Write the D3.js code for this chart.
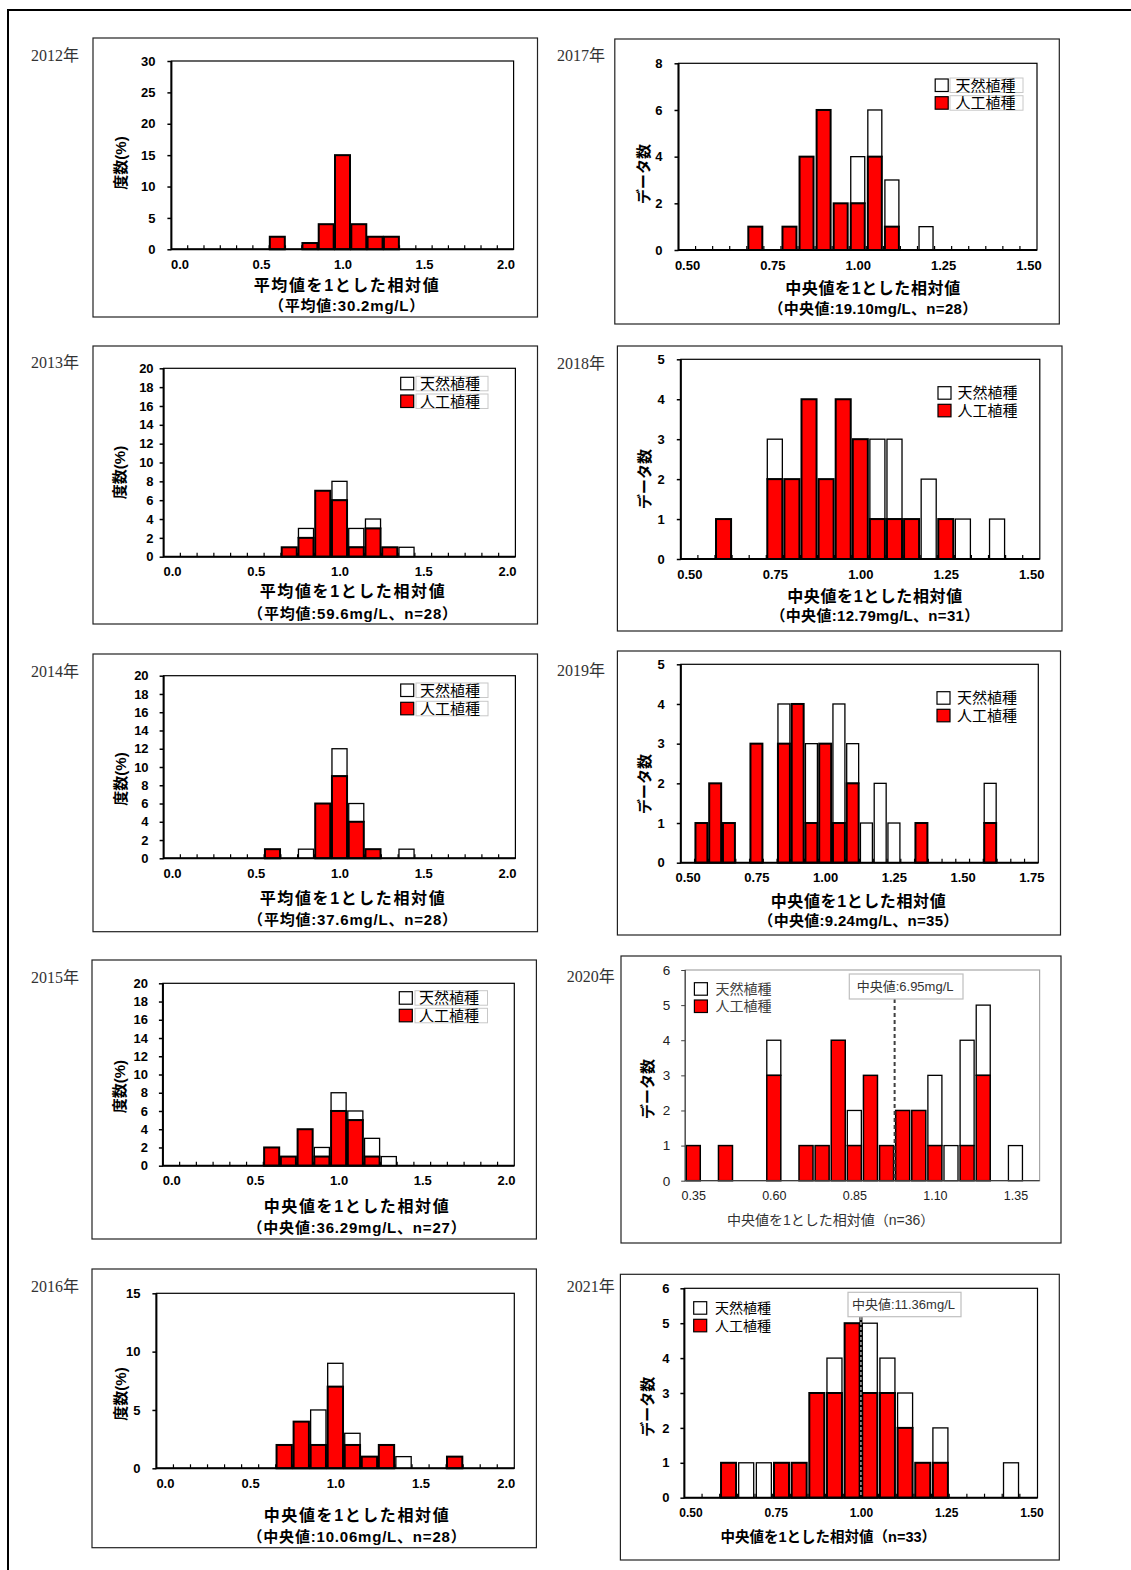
<!DOCTYPE html>
<html>
<head>
<meta charset="utf-8">
<script src="https://cdn.jsdelivr.net/npm/d3@7"></script>
<style>
  html, body { margin: 0; padding: 0; background: #fff; }
  svg { display: block; }
</style>
</head>
<body>
<svg id="chart" width="1131" height="1570"></svg>
<script>
// ---- data: bin value (relative to mean/median) and counts per bin ----
// art = 人工植種 (red), nat = 天然植種 (white, stacked on top)
const bins2012 = [0.6, 0.8, 0.9, 1.0, 1.1, 1.2, 1.3];
const art2012  = [2, 1, 4, 15, 4, 2, 2];
const nat2012  = [0, 0, 0, 0, 0, 0, 0];

const bins2013 = [0.7, 0.8, 0.9, 1.0, 1.1, 1.2, 1.3, 1.4];
const art2013  = [1, 2, 7, 6, 1, 3, 1, 0];
const nat2013  = [0, 1, 0, 2, 2, 1, 0, 1];

const bins2014 = [0.6, 0.8, 0.9, 1.0, 1.1, 1.2, 1.4];
const art2014  = [1, 0, 6, 9, 4, 1, 0];
const nat2014  = [0, 1, 0, 3, 2, 0, 1];

const bins2015 = [0.6, 0.7, 0.8, 0.9, 1.0, 1.1, 1.2, 1.3];
const art2015  = [2, 1, 4, 1, 6, 5, 1, 0];
const nat2015  = [0, 0, 0, 1, 2, 1, 2, 1];

const bins2016 = [0.7, 0.8, 0.9, 1.0, 1.1, 1.2, 1.3, 1.4, 1.7];
const art2016  = [2, 4, 2, 7, 2, 1, 2, 0, 1];
const nat2016  = [0, 0, 3, 2, 1, 0, 0, 1, 0];

const bins2017 = [0.70, 0.80, 0.85, 0.90, 0.95, 1.00, 1.05, 1.10, 1.20];
const art2017  = [1, 1, 4, 6, 2, 2, 4, 1, 0];
const nat2017  = [0, 0, 0, 0, 0, 2, 2, 2, 1];

const bins2018 = [0.60, 0.75, 0.80, 0.85, 0.90, 0.95, 1.00, 1.05, 1.10, 1.15, 1.20, 1.25, 1.30, 1.40];
const art2018  = [1, 2, 2, 4, 2, 4, 3, 1, 1, 1, 0, 1, 0, 0];
const nat2018  = [0, 1, 0, 0, 0, 0, 0, 2, 2, 0, 2, 0, 1, 1];

const bins2019 = [0.55, 0.60, 0.65, 0.75, 0.85, 0.90, 0.95, 1.00, 1.05, 1.10, 1.15, 1.20, 1.25, 1.35, 1.60];
const art2019  = [1, 2, 1, 3, 3, 4, 1, 3, 1, 2, 0, 0, 0, 1, 1];
const nat2019  = [0, 0, 0, 0, 1, 0, 2, 0, 3, 1, 1, 2, 1, 0, 1];

const bins2020 = [0.35, 0.45, 0.60, 0.70, 0.75, 0.80, 0.85, 0.90, 0.95, 1.00, 1.05, 1.10, 1.15, 1.20, 1.25, 1.35];
const art2020  = [1, 1, 3, 1, 1, 4, 1, 3, 1, 2, 2, 1, 0, 1, 3, 0];
const nat2020  = [0, 0, 1, 0, 0, 0, 1, 0, 0, 0, 0, 2, 1, 3, 2, 1];

const bins2021 = [0.60, 0.65, 0.70, 0.75, 0.80, 0.85, 0.90, 0.95, 1.00, 1.05, 1.10, 1.15, 1.20, 1.40];
const art2021  = [1, 0, 0, 1, 1, 3, 3, 5, 3, 3, 2, 1, 1, 0];
const nat2021  = [0, 1, 1, 0, 0, 0, 1, 0, 2, 1, 1, 0, 1, 1];

// median position on the bin axis (boundary of the bin holding 1.00)
const medianPos2020 = 0.975;
const medianPos2021 = 0.975;

// ---- tick labels ----
const yTicks30 = [0, 5, 10, 15, 20, 25, 30];
const yTicks20 = [0, 2, 4, 6, 8, 10, 12, 14, 16, 18, 20];
const yTicks15 = [0, 5, 10, 15];
const yTicks8  = [0, 2, 4, 6, 8];
const yTicks5  = [0, 1, 2, 3, 4, 5];
const yTicks6  = [0, 1, 2, 3, 4, 5, 6];
const xLabels20  = [0.0, 0.5, 1.0, 1.5, 2.0];
const xLabels150 = [0.50, 0.75, 1.00, 1.25, 1.50];
const xLabels175 = [0.50, 0.75, 1.00, 1.25, 1.50, 1.75];
const xLabels135 = [0.35, 0.60, 0.85, 1.10, 1.35];

const seriesNames  = ["天然植種", "人工植種"];
const seriesColors = ["#ffffff", "#ff0000"];

// ---- panel layout ----
const panels = [
  { year: "2012年", yearX: 31, yearY: 60.6, box: [93, 38, 537.5, 317], plot: [171.4, 61, 513.6, 249.3],
    bins: bins2012, art: art2012, nat: nat2012, xDomain: [-0.05, 2.05], step: 0.1, barFrac: 0.92,
    yMax: 30, yTicks: yTicks30, yGap: 16, xLabels: xLabels20, fmt: ".1f",
    yTitle: "度数(%)", yTitleX: 121, yTitleY: 163,
    title: ["平均値を1とした相対値", "（平均値:30.2mg/L）"], titleX: 347, titleY: [285, 306], spacing: 1.6 },
  { year: "2013年", yearX: 31, yearY: 367.6, box: [93, 346, 537.5, 624], plot: [163.6, 368.3, 515.4, 556.7],
    bins: bins2013, art: art2013, nat: nat2013, xDomain: [-0.05, 2.05], step: 0.1, barFrac: 0.9,
    yMax: 20, yTicks: yTicks20, yGap: 10, xLabels: xLabels20, fmt: ".1f",
    yTitle: "度数(%)", yTitleX: 120, yTitleY: 472.5,
    title: ["平均値を1とした相対値", "（平均値:59.6mg/L、n=28）"], titleX: 353, titleY: [591.7, 614], spacing: 1.6,
    legend: { x: 400.7, y1: 377.3, y2: 395, boxed: true, bx0: 416, bx1: 488, tx: 420, fs: 15 } },
  { year: "2014年", yearX: 31, yearY: 676.6, box: [93, 654, 537.5, 931.7], plot: [163.6, 675.7, 515.4, 858.3],
    bins: bins2014, art: art2014, nat: nat2014, xDomain: [-0.05, 2.05], step: 0.1, barFrac: 0.9,
    yMax: 20, yTicks: yTicks20, yGap: 15, xLabels: xLabels20, fmt: ".1f",
    yTitle: "度数(%)", yTitleX: 121, yTitleY: 779,
    title: ["平均値を1とした相対値", "（平均値:37.6mg/L、n=28）"], titleX: 353, titleY: [898, 920], spacing: 1.6,
    legend: { x: 400.7, y1: 684, y2: 702.3, boxed: true, bx0: 416, bx1: 488, tx: 420, fs: 15 } },
  { year: "2015年", yearX: 31, yearY: 982.6, box: [92, 960, 536.4, 1239], plot: [162.9, 983.3, 514.3, 1165.7],
    bins: bins2015, art: art2015, nat: nat2015, xDomain: [-0.05, 2.05], step: 0.1, barFrac: 0.9,
    yMax: 20, yTicks: yTicks20, yGap: 15, xLabels: xLabels20, fmt: ".1f",
    yTitle: "度数(%)", yTitleX: 120, yTitleY: 1086.7,
    title: ["中央値を1とした相対値", "（中央値:36.29mg/L、n=27）"], titleX: 357, titleY: [1206.7, 1228], spacing: 1.6,
    legend: { x: 399.3, y1: 991.7, y2: 1009.3, boxed: true, bx0: 415, bx1: 487.5, tx: 419, fs: 15 } },
  { year: "2016年", yearX: 31, yearY: 1291.6, box: [92, 1269, 536.4, 1547.7], plot: [156.4, 1293.3, 514.3, 1468.3],
    bins: bins2016, art: art2016, nat: nat2016, xDomain: [-0.05, 2.05], step: 0.1, barFrac: 0.9,
    yMax: 15, yTicks: yTicks15, yGap: 16, xLabels: xLabels20, fmt: ".1f",
    yTitle: "度数(%)", yTitleX: 121, yTitleY: 1394,
    title: ["中央値を1とした相対値", "（中央値:10.06mg/L、n=28）"], titleX: 357, titleY: [1515.7, 1536.7], spacing: 1.6 },

  { year: "2017年", yearX: 557, yearY: 60.6, box: [614.8, 39, 1059.3, 324], plot: [678.5, 63.3, 1037, 250],
    bins: bins2017, art: art2017, nat: nat2017, xDomain: [0.475, 1.525], step: 0.05, barFrac: 0.82,
    yMax: 8, yTicks: yTicks8, yGap: 16, xLabels: xLabels150, fmt: ".2f",
    yTitle: "データ数", yTitleX: 644, yTitleY: 174,
    title: ["中央値を1とした相対値", "（中央値:19.10mg/L、n=28）"], titleX: 873, titleY: [288.3, 308.3], spacing: 0.6,
    legend: { x: 935.2, y1: 79, y2: 96.7, boxed: true, bx0: 950, bx1: 1023, tx: 955.6, fs: 15 } },
  { year: "2018年", yearX: 557, yearY: 368.6, box: [617.4, 346, 1062, 631], plot: [680.8, 359.3, 1039.8, 559],
    bins: bins2018, art: art2018, nat: nat2018, xDomain: [0.475, 1.525], step: 0.05, barFrac: 0.88,
    yMax: 5, yTicks: yTicks5, yGap: 16, xLabels: xLabels150, fmt: ".2f",
    yTitle: "データ数", yTitleX: 645, yTitleY: 479,
    title: ["中央値を1とした相対値", "（中央値:12.79mg/L、n=31）"], titleX: 875, titleY: [596.7, 616], spacing: 0.6,
    legend: { x: 938, y1: 386.7, y2: 404.3, boxed: false, tx: 957.4, fs: 15 } },
  { year: "2019年", yearX: 557, yearY: 675.6, box: [617.4, 651, 1060.5, 935], plot: [680.8, 664.3, 1038.3, 862.7],
    bins: bins2019, art: art2019, nat: nat2019, xDomain: [0.475, 1.775], step: 0.05, barFrac: 0.87,
    yMax: 5, yTicks: yTicks5, yGap: 16, xLabels: xLabels175, fmt: ".2f",
    yTitle: "データ数", yTitleX: 645, yTitleY: 784,
    title: ["中央値を1とした相対値", "（中央値:9.24mg/L、n=35）"], titleX: 858.5, titleY: [901, 921], spacing: 0.6,
    legend: { x: 937, y1: 691.7, y2: 709.3, boxed: false, tx: 957, fs: 15 } },
  { year: "2020年", yearX: 566.7, yearY: 982.3, box: [621, 956, 1061, 1243], plot: [685.2, 970, 1039.6, 1180.7],
    bins: bins2020, art: art2020, nat: nat2020, xDomain: [0.325, 1.425], step: 0.05, barFrac: 0.87,
    yMax: 6, yTicks: yTicks6, yGap: 15, xLabels: xLabels135, fmt: ".2f", modern: true,
    yTitle: "データ数", yTitleX: 648, yTitleY: 1089,
    title: ["中央値を1とした相対値（n=36）"], titleX: 830.6, titleY: [1220], spacing: 0,
    legend: { x: 694.4, y1: 982.7, y2: 1000, boxed: false, tx: 715.6, fs: 14 },
    median: { pos: medianPos2020, top: 999, box: [849.3, 974, 963, 999], label: "中央値:6.95mg/L", tx: 856.7, style: "dash" } },
  { year: "2021年", yearX: 566.7, yearY: 1292.3, box: [620.4, 1274.3, 1059.3, 1560], plot: [684.4, 1288.3, 1037.5, 1497.7],
    bins: bins2021, art: art2021, nat: nat2021, xDomain: [0.475, 1.475], labelDomain: [0.4824, 1.5176], step: 0.05, barFrac: 0.85,
    yMax: 6, yTicks: yTicks6, yGap: 15, xLabels: xLabels150, fmt: ".2f", xFont: 12,
    yTitle: "データ数", yTitleX: 648, yTitleY: 1406.7,
    title: ["中央値を1とした相対値（n=33）"], titleX: 828.3, titleY: [1536.3], titleSize: 14.5, spacing: 0,
    legend: { x: 693.7, y1: 1301.7, y2: 1319.3, boxed: false, tx: 715, fs: 14 },
    median: { pos: medianPos2021, top: 1317, box: [848, 1292.3, 961, 1316.7], label: "中央値:11.36mg/L", tx: 851.9, style: "white" } }
];

const FONT  = "'Liberation Sans', 'Noto Sans CJK JP', sans-serif";
const SERIF = "'Liberation Serif', 'Noto Sans CJK JP', serif";
const svg = d3.select("#chart");

// page frame
svg.append("path")
  .attr("d", "M8,1580V10H1140")
  .attr("fill", "none").attr("stroke", "#000").attr("stroke-width", 2);

function drawPanel(p) {
  const g = svg.append("g").attr("font-family", FONT);
  const ink = p.modern ? "#404040" : "#000";
  const [bx0, by0, bx1, by1] = p.box;
  const [px0, py0, px1, py1] = p.plot;

  // year label
  g.append("text")
    .attr("x", p.yearX).attr("y", p.yearY)
    .attr("font-family", SERIF).attr("font-size", 16).attr("fill", "#333")
    .text(p.year);

  // panel frame
  g.append("rect")
    .attr("x", bx0).attr("y", by0).attr("width", bx1 - bx0).attr("height", by1 - by0)
    .attr("fill", "#fff").attr("stroke", "#222").attr("stroke-width", 1.2);

  const x  = d3.scaleLinear().domain(p.xDomain).range([px0, px1]);
  const xl = p.labelDomain ? d3.scaleLinear().domain(p.labelDomain).range([px0, px1]) : x;
  const y  = d3.scaleLinear().domain([0, p.yMax]).range([py1, py0]);

  // plot area outline
  g.append("rect")
    .attr("x", px0).attr("y", py0).attr("width", px1 - px0).attr("height", py1 - py0)
    .attr("fill", "none").attr("stroke", p.modern ? "#a6a6a6" : "#000").attr("stroke-width", 1.2);

  // minor ticks at bin boundaries
  if (!p.modern) {
    const nCat = Math.round((p.xDomain[1] - p.xDomain[0]) / p.step);
    const bounds = d3.range(1, nCat).map(i => p.xDomain[0] + i * p.step);
    g.selectAll("line.minor").data(bounds).join("line").attr("class", "minor")
      .attr("x1", d => x(d)).attr("x2", d => x(d))
      .attr("y1", py1).attr("y2", py1 - 4)
      .attr("stroke", "#000").attr("stroke-width", 1.2);
  }

  // stacked bars
  const data = p.bins.map((b, i) => ({ b, a: p.art[i], n: p.nat[i] }));
  const bw = (x(p.xDomain[0] + p.step) - x(p.xDomain[0])) * p.barFrac;
  g.selectAll("rect.nat").data(data.filter(d => d.n > 0)).join("rect").attr("class", "nat")
    .attr("x", d => x(d.b) - bw / 2).attr("width", bw)
    .attr("y", d => y(d.a + d.n)).attr("height", d => y(d.a) - y(d.a + d.n))
    .attr("fill", seriesColors[0]).attr("stroke", "#000").attr("stroke-width", 1.3);
  g.selectAll("rect.art").data(data.filter(d => d.a > 0)).join("rect").attr("class", "art")
    .attr("x", d => x(d.b) - bw / 2).attr("width", bw)
    .attr("y", d => y(d.a)).attr("height", d => y(0) - y(d.a))
    .attr("fill", seriesColors[1]).attr("stroke", "#000").attr("stroke-width", p.modern ? 1.5 : 2);

  // median marker
  if (p.median) {
    const M = p.median;
    const mx = x(M.pos);
    if (M.style === "white") {
      g.append("line").attr("x1", mx).attr("x2", mx).attr("y1", M.top).attr("y2", py1)
        .attr("stroke", "#000").attr("stroke-width", 3);
      g.append("line").attr("x1", mx).attr("x2", mx).attr("y1", M.top).attr("y2", py1)
        .attr("stroke", "#fff").attr("stroke-width", 1).attr("stroke-dasharray", "3,2");
    } else {
      g.append("line").attr("x1", mx).attr("x2", mx).attr("y1", M.top).attr("y2", py1)
        .attr("stroke", "#404040").attr("stroke-width", 2).attr("stroke-dasharray", "4,3");
    }
    const [mb0, mb1, mb2, mb3] = M.box;
    g.append("rect").attr("x", mb0).attr("y", mb1).attr("width", mb2 - mb0).attr("height", mb3 - mb1)
      .attr("fill", "#fff").attr("stroke", "#bfbfbf").attr("stroke-width", 1.2);
    g.append("text").attr("x", M.tx).attr("y", (mb1 + mb3) / 2).attr("dy", "0.36em")
      .attr("font-size", 13).attr("fill", "#333").text(M.label);
  }

  // axis lines
  g.append("path").attr("d", `M${px0},${py0}V${py1}H${px1}`)
    .attr("fill", "none").attr("stroke", ink).attr("stroke-width", p.modern ? 1.2 : 2);

  // y axis
  const yg = g.append("g").attr("transform", `translate(${px0},0)`)
    .call(d3.axisLeft(y).tickValues(p.yTicks).tickSize(4).tickPadding(p.yGap - 4).tickFormat(d3.format("d")));
  yg.select(".domain").remove();
  yg.selectAll("line").attr("stroke", ink).attr("stroke-width", p.modern ? 1 : 1.5);
  yg.selectAll("text")
    .attr("font-family", FONT).attr("font-size", p.modern ? 13.5 : 13)
    .attr("font-weight", p.modern ? 400 : 700).attr("fill", p.modern ? "#222" : "#000");

  // x axis labels
  const xg = g.append("g").attr("transform", `translate(0,${py1})`)
    .call(d3.axisBottom(xl).tickValues(p.xLabels).tickSize(0).tickFormat(d3.format(p.fmt)));
  xg.select(".domain").remove();
  xg.selectAll("text")
    .attr("y", 15).attr("dy", "0.35em")
    .attr("font-family", FONT).attr("font-size", p.xFont || (p.modern ? 12.5 : 13))
    .attr("font-weight", p.modern ? 400 : 700).attr("fill", p.modern ? "#222" : "#000");

  // y title
  g.append("text")
    .attr("transform", `translate(${p.yTitleX},${p.yTitleY}) rotate(-90)`)
    .attr("text-anchor", "middle").attr("dy", "0.36em")
    .attr("font-size", 15).attr("font-weight", 700).attr("fill", "#000")
    .text(p.yTitle);

  // x titles
  p.title.forEach((t, i) => {
    g.append("text")
      .attr("x", p.titleX).attr("y", p.titleY[i]).attr("dy", "0.36em")
      .attr("text-anchor", "middle")
      .attr("font-size", p.titleSize || (p.modern ? 14 : (i === 0 ? 16 : 15)))
      .attr("font-weight", p.modern ? 400 : 700)
      .attr("letter-spacing", i === 0 ? p.spacing : p.spacing * 0.5)
      .attr("fill", p.modern ? "#333" : "#000")
      .text(t);
  });

  // legend
  if (p.legend) {
    const L = p.legend;
    [L.y1, L.y2].forEach((yy, i) => {
      if (L.boxed) {
        g.append("rect").attr("x", L.bx0).attr("y", yy - 1).attr("width", L.bx1 - L.bx0).attr("height", 14.5)
          .attr("fill", "#fff").attr("stroke", "#c8c8c8").attr("stroke-width", 1);
      }
      g.append("rect").attr("x", L.x).attr("y", yy).attr("width", 13).attr("height", 12.5)
        .attr("fill", seriesColors[i]).attr("stroke", "#000").attr("stroke-width", 1.2);
      g.append("text").attr("x", L.tx).attr("y", yy + 6.3).attr("dy", "0.36em")
        .attr("font-size", L.fs).attr("fill", p.modern ? "#404040" : "#000")
        .text(seriesNames[i]);
    });
  }
}

panels.forEach(drawPanel);
</script>
</body>
</html>
